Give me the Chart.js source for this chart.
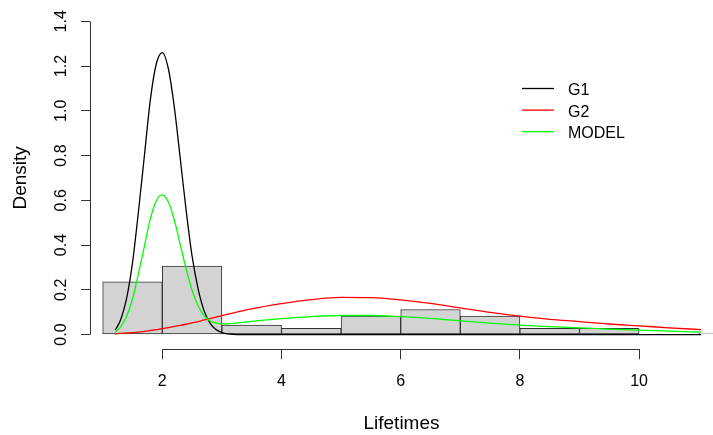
<!DOCTYPE html>
<html>
<head>
<meta charset="utf-8">
<title>Lifetimes</title>
<script src="https://cdn.jsdelivr.net/npm/chart.js@4.4.1/dist/chart.umd.min.js"></script>
<style>
  html, body { margin: 0; padding: 0; background: #fff; }
</style>
</head>
<body>
<canvas id="lifeChart" width="713" height="435"></canvas>
<script>
// histogram bins (left edges) and densities
var binStarts = [1, 2, 3, 4, 5, 6, 7, 8, 9, 10, 11];
var histDensity = [0.235, 0.306, 0.042, 0.028, 0.082, 0.112, 0.082, 0.028, 0.028, 0, 0.006];

// x positions where the fitted curves were read
var curveX = [1.21, 1.3, 1.4, 1.5, 1.6, 1.7, 1.8, 1.9, 2.0, 2.1, 2.2, 2.3, 2.4, 2.5, 2.6, 2.7, 2.8, 2.9, 3.0,
              3.1, 3.2, 3.3, 3.4, 3.5, 4.0, 4.5, 5.0, 5.5, 6.0, 6.5, 7.0, 7.5, 8.0, 8.5, 9.0, 9.5, 10.0, 10.5, 11.04];
var g1 = [0.02, 0.065, 0.16, 0.32, 0.55, 0.80, 1.05, 1.21, 1.26, 1.19, 1.02, 0.79, 0.555, 0.35, 0.205, 0.107, 0.051, 0.022, 0.009,
          0.003, 0.001, 0, 0, 0, 0, 0, 0, 0, 0, 0, 0, 0, 0, 0, 0, 0, 0, 0, 0];
var g2 = [0.003, 0.005, 0.007, 0.008, 0.011, 0.014, 0.018, 0.022, 0.026, 0.031, 0.036, 0.041, 0.046, 0.052, 0.058, 0.065, 0.071, 0.078, 0.085,
          0.091, 0.097, 0.103, 0.109, 0.115, 0.138, 0.156, 0.166, 0.165, 0.155, 0.139, 0.119, 0.099, 0.082, 0.068, 0.058, 0.047, 0.039, 0.030, 0.022];
var model = [0.011, 0.034, 0.081, 0.159, 0.272, 0.395, 0.518, 0.598, 0.624, 0.593, 0.513, 0.404, 0.293, 0.197, 0.129, 0.085, 0.061, 0.051, 0.048,
             0.048, 0.050, 0.053, 0.056, 0.059, 0.071, 0.080, 0.085, 0.085, 0.080, 0.072, 0.061, 0.051, 0.042, 0.035, 0.030, 0.024, 0.020, 0.015, 0.011];

var xTicks = [2, 4, 6, 8, 10];
var yTicks = [0, 0.2, 0.4, 0.6, 0.8, 1.0, 1.2, 1.4];

var font = "'Liberation Sans', Arial, sans-serif";

function toPoints(xs, ys) {
    var pts = [];
    for (var i = 0; i < xs.length; i++) {
        pts.push({ x: xs[i], y: ys[i] });
    }
    return pts;
}

var histPoints = [];
for (var i = 0; i < binStarts.length; i++) {
    histPoints.push({ x: binStarts[i] + 0.5, y: histDensity[i] });
}

function crisp(v) {
    return Math.round(v - 0.5) + 0.5;
}

// R style axes: line only from first to last tick, plus the legend
var rAxes = {
    id: "rAxes",
    afterDraw: function(chart) {
        var ctx = chart.ctx;
        var xs = chart.scales.x;
        var ys = chart.scales.y;
        var area = chart.chartArea;
        ctx.save();
        ctx.strokeStyle = "#333";
        ctx.lineWidth = 1;
        ctx.beginPath();
        var ax = crisp(area.left);
        ctx.moveTo(ax, crisp(ys.getPixelForValue(yTicks[0])));
        ctx.lineTo(ax, crisp(ys.getPixelForValue(yTicks[yTicks.length - 1])));
        var ay = crisp(area.bottom);
        ctx.moveTo(crisp(xs.getPixelForValue(xTicks[0])), ay);
        ctx.lineTo(crisp(xs.getPixelForValue(xTicks[xTicks.length - 1])), ay);
        ctx.stroke();

        // legend, top right
        var lx = 522, rowY = 88.5, rowH = 21.6;
        ctx.font = "16px " + font;
        ctx.textBaseline = "middle";
        ctx.textAlign = "left";
        chart.data.datasets.forEach(function(ds) {
            if (ds.type !== "line") return;
            ctx.strokeStyle = ds.borderColor;
            ctx.lineWidth = 1.3;
            ctx.beginPath();
            ctx.moveTo(lx, rowY);
            ctx.lineTo(lx + 32, rowY);
            ctx.stroke();
            ctx.fillStyle = "#000";
            ctx.fillText(ds.label, lx + 46, rowY + 2);
            rowY += rowH;
        });
        ctx.restore();
    }
};

var ctx = document.getElementById("lifeChart").getContext("2d");
var chart = new Chart(ctx, {
    type: "bar",
    data: {
        datasets: [
            {
                type: "bar",
                label: "hist",
                data: histPoints,
                backgroundColor: "#d3d3d3",
                borderColor: "#333",
                borderWidth: 1,
                borderSkipped: false,
                barPercentage: 1,
                categoryPercentage: 1,
                order: 4
            },
            {
                type: "line",
                label: "G1",
                data: toPoints(curveX, g1),
                borderColor: "#000000",
                borderWidth: 1.3,
                pointRadius: 0,
                cubicInterpolationMode: "monotone",
                order: 3
            },
            {
                type: "line",
                label: "G2",
                data: toPoints(curveX, g2),
                borderColor: "#ff0000",
                borderWidth: 1.3,
                pointRadius: 0,
                cubicInterpolationMode: "monotone",
                order: 2
            },
            {
                type: "line",
                label: "MODEL",
                data: toPoints(curveX, model),
                borderColor: "#00ff00",
                borderWidth: 1.3,
                pointRadius: 0,
                cubicInterpolationMode: "monotone",
                order: 1
            }
        ]
    },
    options: {
        responsive: false,
        devicePixelRatio: 1,
        animation: false,
        layout: { padding: { left: 0, right: 0, top: 6.5, bottom: 0 } },
        plugins: {
            legend: { display: false },
            tooltip: { enabled: false }
        },
        scales: {
            x: {
                type: "linear",
                min: 0.787,
                max: 11.24,
                offset: false,
                border: { display: false },
                grid: { offset: false, drawOnChartArea: false, drawTicks: true, tickLength: 10, color: "#333", lineWidth: 1 },
                afterBuildTicks: function(scale) {
                    scale.ticks = xTicks.map(function(v) { return { value: v }; });
                },
                afterFit: function(scale) {
                    scale.height = 85.7;
                    scale.paddingLeft = 0;
                    scale.paddingRight = 0;
                },
                ticks: {
                    padding: 13,
                    color: "#000",
                    maxRotation: 0,
                    autoSkip: false,
                    font: { family: font, size: 16 }
                },
                title: {
                    display: true,
                    text: "Lifetimes",
                    color: "#000",
                    padding: { top: 0, bottom: 0 },
                    font: { family: font, size: 19 }
                }
            },
            y: {
                type: "linear",
                min: -0.066,
                max: 1.466,
                border: { display: false },
                grid: { drawOnChartArea: false, drawTicks: true, tickLength: 9, color: "#333", lineWidth: 1 },
                afterBuildTicks: function(scale) {
                    scale.ticks = yTicks.map(function(v) { return { value: v }; });
                },
                afterFit: function(scale) {
                    scale.width = 90;
                    scale.paddingTop = 0;
                    scale.paddingBottom = 0;
                },
                ticks: {
                    padding: 8,
                    color: "#000",
                    minRotation: 90,
                    maxRotation: 90,
                    crossAlign: "center",
                    autoSkip: false,
                    font: { family: font, size: 16 },
                    callback: function(v) { return Number(v).toFixed(1); }
                },
                title: {
                    display: true,
                    text: "Density",
                    color: "#000",
                    padding: { top: 9.6, bottom: 0 },
                    font: { family: font, size: 19 }
                }
            }
        }
    },
    plugins: [rAxes]
});
</script>
</body>
</html>
